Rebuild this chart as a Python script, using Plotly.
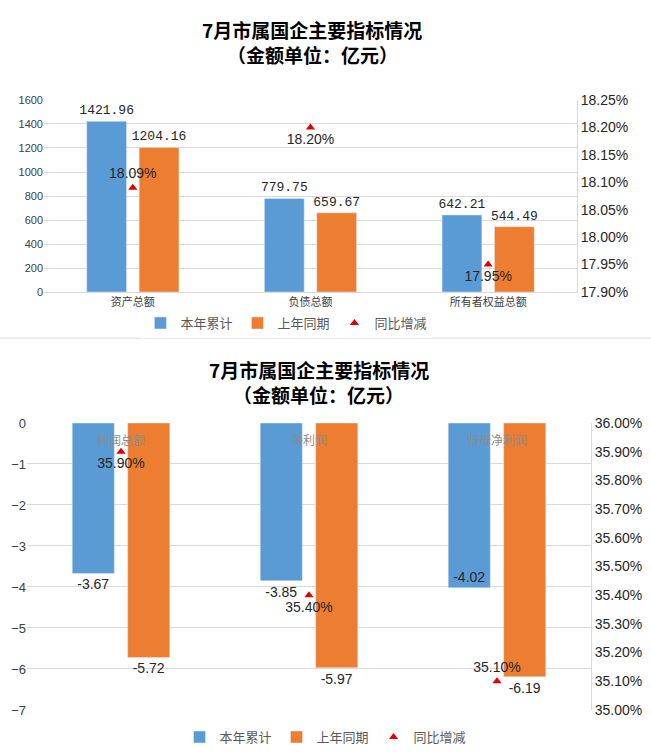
import plotly.graph_objects as go
from plotly.subplots import make_subplots

# top chart: balance sheet totals (亿元) and YoY change
cats_top = ["资产总额", "负债总额", "所有者权益总额"]
cur_top = [1421.96, 779.75, 642.21]
prev_top = [1204.16, 659.67, 544.49]
yoy_top = [0.1809, 0.1820, 0.1795]

# bottom chart: profits (亿元) and YoY change
cats_bot = ["利润总额", "净利润", "归母净利润"]
cur_bot = [-3.67, -3.85, -4.02]
prev_bot = [-5.72, -5.97, -6.19]
yoy_bot = [0.3590, 0.3540, 0.3510]

TITLE_1 = "7月市属国企主要指标情况"
TITLE_2 = "（金额单位：亿元）"
SERIES = ["本年累计", "上年同期", "同比增减"]

BLUE = "#5b9bd5"
ORANGE = "#ed7d31"
RED = "#e00000"
GRID = "#d9d9d9"
CJK = "Noto Sans CJK SC"
NARROW = "Liberation Sans Narrow, Liberation Sans, Arial"
MONO = dict(family="Liberation Mono", size=13, color="#262626")
NUM = dict(family=NARROW, size=14, color="#262626")

fig = make_subplots(rows=2, cols=1,
                    specs=[[{"secondary_y": True}], [{"secondary_y": True}]])

# --- top ---
fig.add_trace(go.Bar(x=cats_top, y=cur_top, name=SERIES[0], marker_color=BLUE,
                     texttemplate="%{y:.2f}", textposition="outside", textfont=MONO,
                     constraintext="none", cliponaxis=False, legend="legend"),
              row=1, col=1, secondary_y=False)
fig.add_trace(go.Bar(x=cats_top, y=prev_top, name=SERIES[1], marker_color=ORANGE,
                     texttemplate="%{y:.2f}", textposition="outside", textfont=MONO,
                     constraintext="none", cliponaxis=False, legend="legend"),
              row=1, col=1, secondary_y=False)
fig.add_trace(go.Scatter(x=cats_top, y=yoy_top, name=SERIES[2], mode="markers+text",
                         marker=dict(symbol="triangle-up", color=RED, size=8),
                         texttemplate="%{y:.2%}",
                         textposition=["top center", "bottom center", "bottom center"],
                         textfont=NUM, cliponaxis=False, legend="legend"),
              row=1, col=1, secondary_y=True)

# --- bottom ---
fig.add_trace(go.Bar(x=cats_bot, y=cur_bot, name=SERIES[0], marker_color=BLUE,
                     texttemplate="%{y:.2f}",
                     textposition=["outside", "outside", "inside"],
                     insidetextanchor="end", textfont=NUM, constraintext="none",
                     cliponaxis=False, legend="legend2"), row=2, col=1, secondary_y=False)
fig.add_trace(go.Bar(x=cats_bot, y=prev_bot, name=SERIES[1], marker_color=ORANGE,
                     texttemplate="%{y:.2f}", textposition="outside", textfont=NUM,
                     constraintext="none", cliponaxis=False, legend="legend2"),
              row=2, col=1, secondary_y=False)
fig.add_trace(go.Scatter(x=cats_bot, y=yoy_bot, name=SERIES[2], mode="markers+text",
                         marker=dict(symbol="triangle-up", color=RED, size=8),
                         texttemplate="%{y:.2%}",
                         textposition=["bottom center", "bottom center", "top center"],
                         textfont=NUM, cliponaxis=False, legend="legend2"),
              row=2, col=1, secondary_y=True)

tick_right = dict(family=NARROW, size=14, color="#262626")

fig.update_xaxes(automargin=False)
fig.update_yaxes(automargin=False)

fig.update_xaxes(domain=[0.0676, 0.8863], row=1, col=1, showline=True, linecolor=GRID,
                 ticks="", tickfont=dict(family=CJK, size=11, color="#404040"))
fig.update_yaxes(domain=[0.6127, 0.8674], range=[0, 1600], dtick=200, showgrid=True,
                 gridcolor=GRID, zeroline=False,
                 tickfont=dict(family="Liberation Sans", size=11, color="#404040"),
                 row=1, col=1, secondary_y=False)
fig.update_yaxes(range=[0.1790, 0.1825], dtick=0.0005, tickformat=".2%", showgrid=False,
                 showline=True, linecolor=GRID, zeroline=False, tickfont=tick_right,
                 row=1, col=1, secondary_y=True)

# bottom chart: category names sit just under the zero line, inside the plot
fig.update_xaxes(domain=[0.0415, 0.9078], row=2, col=1, showticklabels=False, ticks="")
fig.update_yaxes(domain=[0.0584, 0.4390], range=[-7, 0], dtick=1, showgrid=True,
                 gridcolor=GRID, zeroline=False,
                 tickfont=dict(family=NARROW, size=13, color="#404040"),
                 row=2, col=1, secondary_y=False)
fig.update_yaxes(range=[0.35, 0.36], dtick=0.001, tickformat=".2%", showgrid=False,
                 showline=True, linecolor=GRID, zeroline=False, tickfont=tick_right,
                 row=2, col=1, secondary_y=True)
for c in cats_bot:
    fig.add_annotation(text=c, x=c, y=0, xref="x2", yref="y3", showarrow=False,
                       yanchor="top", yshift=-6,
                       font=dict(family=CJK, size=12, color="#8c8c8c"))

title_font = dict(family=CJK, size=19, color="#000000")
for txt, x, y in [(TITLE_1, 0.48, 0.9615), (TITLE_2, 0.48, 0.9283),
                  (TITLE_1, 0.49, 0.5106), (TITLE_2, 0.49, 0.4774)]:
    fig.add_annotation(text="<b>" + txt + "</b>", xref="paper", yref="paper", x=x, y=y,
                       showarrow=False, font=title_font, xanchor="center", yanchor="middle")

fig.add_shape(type="line", xref="paper", yref="paper", x0=0, x1=1, y0=0.5517, y1=0.5517,
              line=dict(color=GRID, width=1))

legend_font = dict(family=CJK, size=13, color="#595959")
fig.update_layout(
    width=651, height=754, margin=dict(l=0, r=0, t=0, b=0),
    paper_bgcolor="white", plot_bgcolor="white",
    barmode="group", bargap=0.41, bargroupgap=0.24,
    legend=dict(orientation="h", x=0.44, y=0.5716, xanchor="center", yanchor="middle",
                font=legend_font, itemwidth=30, tracegroupgap=0),
    legend2=dict(orientation="h", x=0.5, y=0.0225, xanchor="center", yanchor="middle",
                 font=legend_font, itemwidth=30, tracegroupgap=0),
)

# the page's default body margin would push the 651x754 figure off the window
fig.write_html("out.html", config={"displayModeBar": False},
               post_script="document.body.style.margin='0';")
